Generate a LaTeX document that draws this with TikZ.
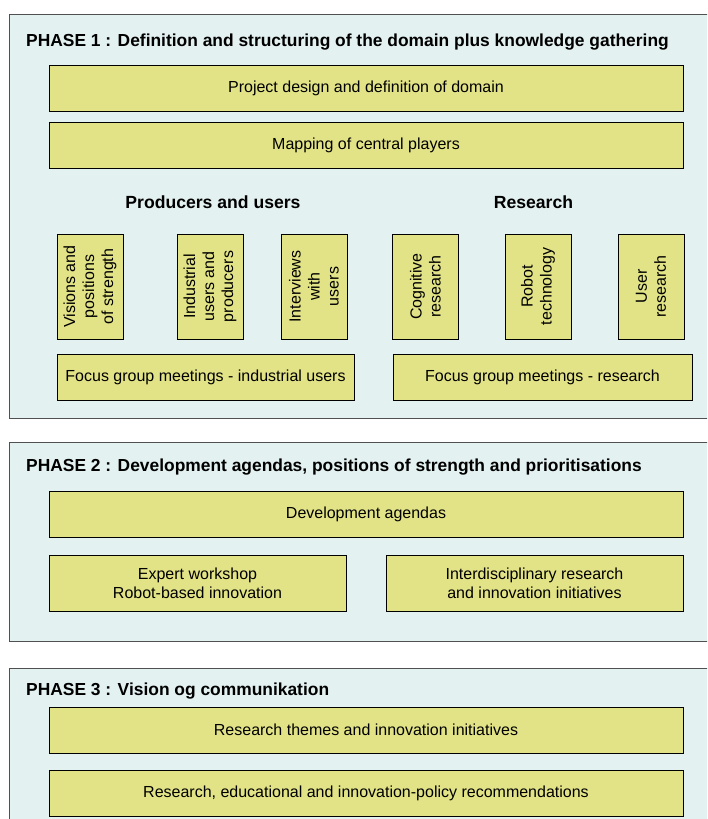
\documentclass[tikz,border=0pt]{standalone}
\usepackage{fontspec}
\setmainfont{Liberation Sans}
\usepackage{tikz}

\definecolor{phasebg}{RGB}{227,241,241}
\definecolor{taskfill}{RGB}{226,227,134}
\definecolor{phaseline}{RGB}{80,80,80}

\begin{document}
\begin{tikzpicture}[x=1pt,y=-1pt,
    every node/.style={inner sep=0pt, font=\fontsize{16}{19}\selectfont},
    phaseframe/.style={draw=phaseline, line width=1pt, fill=phasebg},
    phasetitle/.style={anchor=west, font=\fontsize{17.4}{20}\selectfont\bfseries},
    grouptitle/.style={font=\fontsize{17.6}{20}\selectfont\bfseries},
    task/.style={draw=black, line width=0.8pt, fill=taskfill, align=center,
                 minimum height=46pt},
    widetask/.style={task, minimum width=634pt},
    halftask/.style={task, minimum width=297pt},
    vtask/.style={task, rotate=90, minimum width=105pt, minimum height=66pt}]
          \useasboundingbox (0,0) rectangle (707,819);
          \clip (0,0) rectangle (707,819);
          \fill [white] (0,0) rectangle (707,819);
          \draw [phaseframe] (9,14) rectangle (725,418);
          \draw [phaseframe] (9,442) rectangle (725,641);
          \draw [phaseframe] (9,668) rectangle (725,840);
          \node [phasetitle] (title1) at (26,42) {PHASE 1 : Definition and structuring of the domain plus knowledge gathering};
          \node [widetask] (design) at (366,88.5) {Project design and definition of domain};
          \node [widetask] (mapping) at (366,145) {Mapping of central players};
          \node [grouptitle] (producers) at (213,202) {Producers and users};
          \node [grouptitle] (research) at (533.5,202) {Research};
          \node [vtask] (visions) at (90,286.5) {Visions and\\positions\\of strength};
          \node [vtask] (industrial) at (210,286.5) {Industrial\\users and\\producers};
          \node [vtask] (interviews) at (314,286.5) {Interviews\\with\\users};
          \node [vtask] (cognitive) at (425.5,286.5) {Cognitive\\research};
          \node [vtask] (robot) at (538,286.5) {Robot\\technology};
          \node [vtask] (userres) at (651,286.5) {User\\research};
          \node [halftask] (focusind) at (205.5,377) {Focus group meetings - industrial users};
          \node [halftask, minimum width=299pt] (focusres) at (542.5,377) {Focus group meetings - research};
          \node [phasetitle] (title2) at (26,467) {PHASE 2 : Development agendas, positions of strength and prioritisations};
          \node [widetask] (agendas) at (366,514) {Development agendas};
          \node [halftask, minimum height=56pt] (workshop) at (197.5,583) {Expert workshop\\Robot-based innovation};
          \node [halftask, minimum height=56pt] (interdisc) at (534.5,583) {Interdisciplinary research\\and innovation initiatives};
          \node [phasetitle] (title3) at (26,691) {PHASE 3 : Vision og communikation};
          \node [widetask] (themes) at (366,730) {Research themes and innovation initiatives};
          \node [widetask] (policy) at (366,793.5) {Research, educational and innovation-policy recommendations};
\end{tikzpicture}
\end{document}
